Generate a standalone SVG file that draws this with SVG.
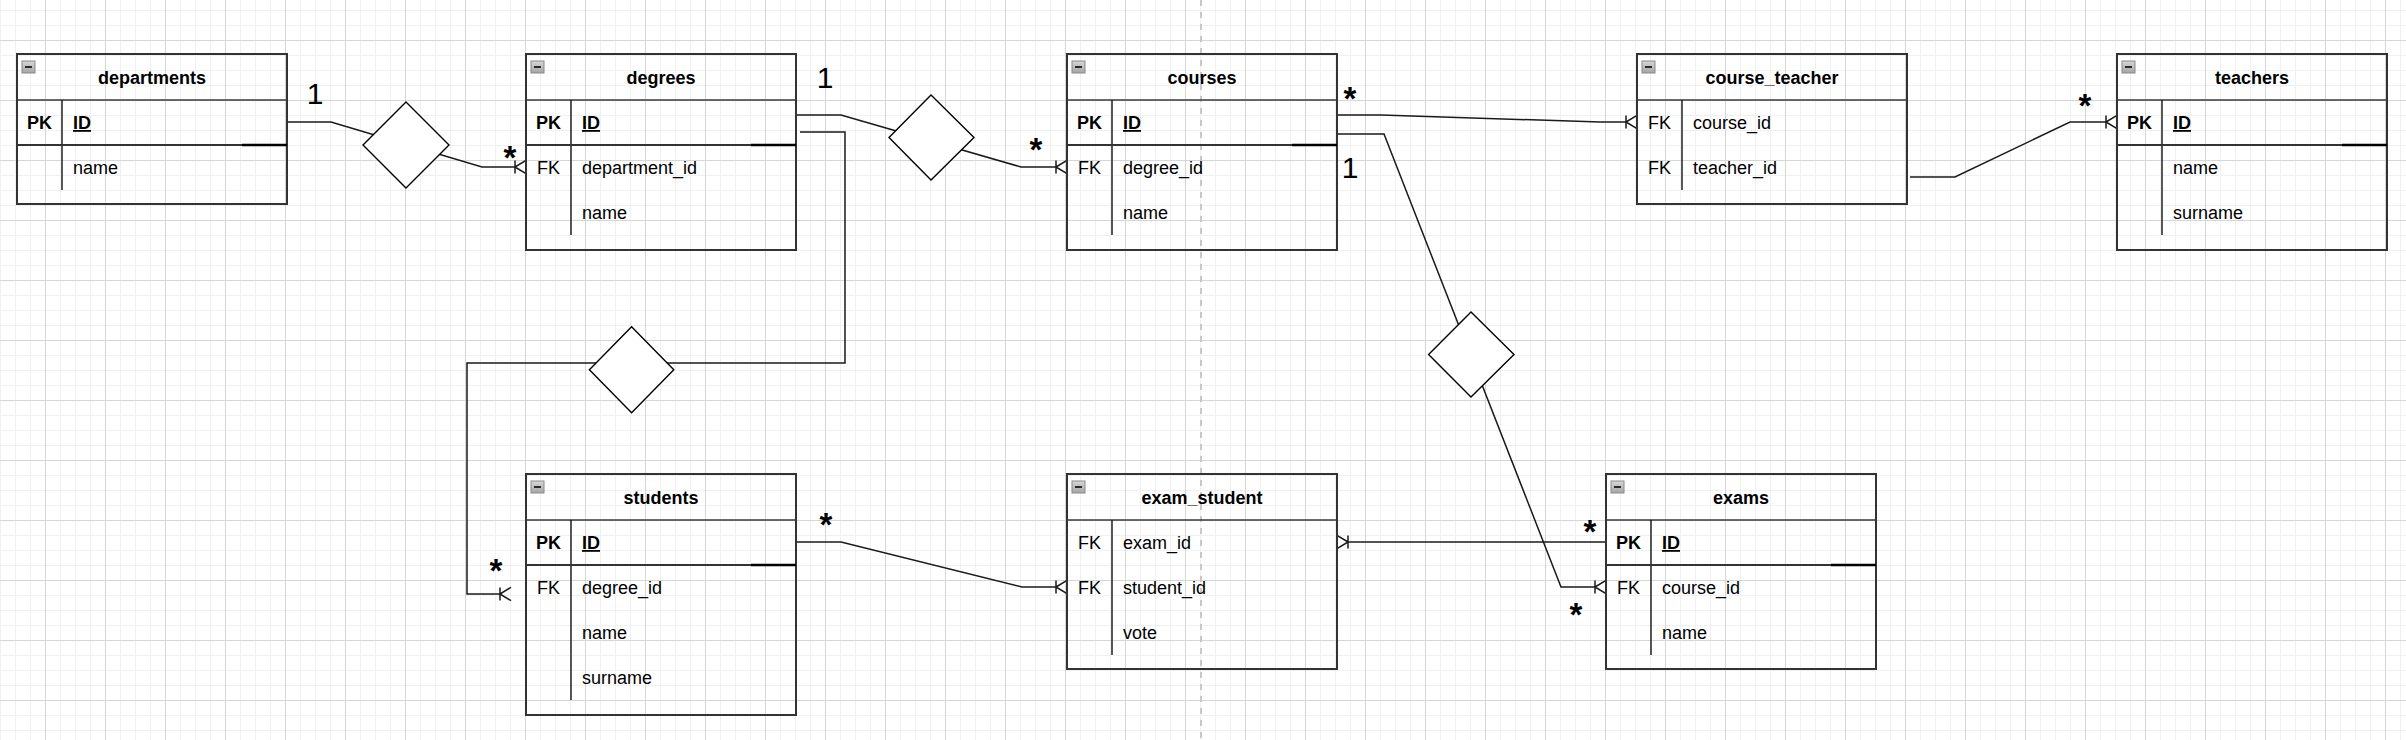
<svg xmlns="http://www.w3.org/2000/svg" width="2406" height="740" viewBox="0 0 2406 740">
<style>
.box{fill:none;stroke:#333;stroke-width:2}
.sep{stroke:#3a3a3a;stroke-width:1.6;fill:none}
.div{stroke:#111;stroke-width:1.4;fill:none}
.pk{stroke:#333;stroke-width:2;fill:none}
.pkb{stroke:#000;stroke-width:2.6;fill:none}
.icon{fill:url(#ig);stroke:#8a8a8a;stroke-width:1}
.minus{stroke:#2a2a2a;stroke-width:2;fill:none}
text{font-family:"Liberation Sans",Arial,Helvetica,sans-serif;fill:#000}
.t{font-size:18px;font-weight:bold;text-anchor:middle}
.k{font-size:18px;text-anchor:middle}
.kb{font-size:18px;font-weight:bold;text-anchor:middle}
.f{font-size:18px}
.fu{font-size:18px;font-weight:bold;text-decoration:underline}
.one{font-size:30px;text-anchor:middle}
.star{font-size:33px;font-weight:bold;text-anchor:middle}
.edge{fill:none;stroke:#1a1a1a;stroke-width:1.5}
.dia{fill:#fff;stroke:#000;stroke-width:1.4}
</style>
<defs>
<linearGradient id="ig" x1="0" y1="0" x2="0" y2="1">
<stop offset="0" stop-color="#d8d8d8"/><stop offset="1" stop-color="#a4a4a4"/>
</linearGradient>
<pattern id="grid" patternUnits="userSpaceOnUse" x="45" y="40" width="60" height="60">
<rect x="15" y="0" width="1" height="60" fill="#f0f0f0"/>
<rect x="30" y="0" width="1" height="60" fill="#f0f0f0"/>
<rect x="45" y="0" width="1" height="60" fill="#f0f0f0"/>
<rect x="0" y="15" width="60" height="1" fill="#f0f0f0"/>
<rect x="0" y="30" width="60" height="1" fill="#f0f0f0"/>
<rect x="0" y="45" width="60" height="1" fill="#f0f0f0"/>
<rect x="0" y="0" width="1" height="60" fill="#d6d6d6"/>
<rect x="0" y="0" width="60" height="1" fill="#d6d6d6"/>
</pattern>
<marker id="many" markerUnits="userSpaceOnUse" orient="auto" refX="0" refY="0" markerWidth="14" markerHeight="16" overflow="visible">
<path d="M0,-6.5V6.5M0,0L11,-6.7M0,0L11,6.7" fill="none" stroke="#1a1a1a" stroke-width="1.5"/>
</marker>
</defs>
<g id="background">
<rect width="2406" height="740" fill="#fff"/>
<rect width="2406" height="740" fill="url(#grid)"/>
<path d="M1201,0V740" stroke="#c8c8c8" stroke-width="2" stroke-dasharray="6 6"/>
</g>
<g id="connectors">
<path class="edge" d="M287,122L331,122L482,167L515,167" marker-end="url(#many)"/>
<path class="edge" d="M796,115L841,115L1021,167L1056,167" marker-end="url(#many)"/>
<path class="edge" d="M800,132L845,132L845,363L467,363L467,594L500,594" marker-end="url(#many)"/>
<path class="edge" d="M1337,115L1381,115L1600,122L1626,122" marker-end="url(#many)"/>
<path class="edge" d="M1338,134L1384,134L1561,587L1595,587" marker-end="url(#many)"/>
<path class="edge" d="M1606,542L1348,542" marker-end="url(#many)"/>
<path class="edge" d="M796,542L841,542L1022,587L1056,587" marker-end="url(#many)"/>
<path class="edge" d="M1910,177L1955,177L2070,122L2106,122" marker-end="url(#many)"/>
<polygon id="rel_dept_deg" class="dia" points="406,102 449,145 406,188 363,145"/>
<polygon id="rel_deg_course" class="dia" points="931,95 974,137.5 931,180 889,137.5"/>
<polygon id="rel_deg_student" class="dia" points="631.6,326.7 673.8,369.7 631.6,412.7 589.4,369.7"/>
<polygon id="rel_course_exam" class="dia" points="1471,312 1514,354.5 1471,397 1428.6,354.5"/>
<text class="one" x="315" y="104">1</text>
<text class="star" x="510" y="169">*</text>
<text class="one" x="825" y="88">1</text>
<text class="star" x="1036" y="161">*</text>
<text class="star" x="1350" y="110">*</text>
<text class="one" x="1350" y="178">1</text>
<text class="star" x="2085" y="117">*</text>
<text class="star" x="496" y="582">*</text>
<text class="star" x="826" y="536">*</text>
<text class="star" x="1590" y="543">*</text>
<text class="star" x="1576" y="626">*</text>
</g>
<g id="departments" transform="translate(17,54)">
<rect class="box" width="270" height="150"/>
<rect class="icon" x="5" y="7" width="13" height="12"/><path class="minus" d="M8,13H15"/>
<text class="t" x="135" y="30">departments</text>
<path class="sep" d="M0,46H270"/>
<path class="div" d="M45,46V136"/>
<path class="pk" d="M0,91H270"/><path class="pkb" d="M225,91H270"/>
<text class="kb" x="22.5" y="75">PK</text><text class="fu" x="56" y="75">ID</text>
<text class="f" x="56" y="120">name</text>
</g>
<g id="degrees" transform="translate(526,54)">
<rect class="box" width="270" height="196"/>
<rect class="icon" x="5" y="7" width="13" height="12"/><path class="minus" d="M8,13H15"/>
<text class="t" x="135" y="30">degrees</text>
<path class="sep" d="M0,46H270"/>
<path class="div" d="M45,46V181"/>
<path class="pk" d="M0,91H270"/><path class="pkb" d="M225,91H270"/>
<text class="kb" x="22.5" y="75">PK</text><text class="fu" x="56" y="75">ID</text>
<text class="k" x="22.5" y="120">FK</text><text class="f" x="56" y="120">department_id</text>
<text class="f" x="56" y="165">name</text>
</g>
<g id="courses" transform="translate(1067,54)">
<rect class="box" width="270" height="196"/>
<rect class="icon" x="5" y="7" width="13" height="12"/><path class="minus" d="M8,13H15"/>
<text class="t" x="135" y="30">courses</text>
<path class="sep" d="M0,46H270"/>
<path class="div" d="M45,46V181"/>
<path class="pk" d="M0,91H270"/><path class="pkb" d="M225,91H270"/>
<text class="kb" x="22.5" y="75">PK</text><text class="fu" x="56" y="75">ID</text>
<text class="k" x="22.5" y="120">FK</text><text class="f" x="56" y="120">degree_id</text>
<text class="f" x="56" y="165">name</text>
</g>
<g id="course_teacher" transform="translate(1637,54)">
<rect class="box" width="270" height="150"/>
<rect class="icon" x="5" y="7" width="13" height="12"/><path class="minus" d="M8,13H15"/>
<text class="t" x="135" y="30">course_teacher</text>
<path class="sep" d="M0,46H270"/>
<path class="div" d="M45,46V136"/>
<text class="k" x="22.5" y="75">FK</text><text class="f" x="56" y="75">course_id</text>
<text class="k" x="22.5" y="120">FK</text><text class="f" x="56" y="120">teacher_id</text>
</g>
<g id="teachers" transform="translate(2117,54)">
<rect class="box" width="270" height="196"/>
<rect class="icon" x="5" y="7" width="13" height="12"/><path class="minus" d="M8,13H15"/>
<text class="t" x="135" y="30">teachers</text>
<path class="sep" d="M0,46H270"/>
<path class="div" d="M45,46V181"/>
<path class="pk" d="M0,91H270"/><path class="pkb" d="M225,91H270"/>
<text class="kb" x="22.5" y="75">PK</text><text class="fu" x="56" y="75">ID</text>
<text class="f" x="56" y="120">name</text>
<text class="f" x="56" y="165">surname</text>
</g>
<g id="students" transform="translate(526,474)">
<rect class="box" width="270" height="241"/>
<rect class="icon" x="5" y="7" width="13" height="12"/><path class="minus" d="M8,13H15"/>
<text class="t" x="135" y="30">students</text>
<path class="sep" d="M0,46H270"/>
<path class="div" d="M45,46V226"/>
<path class="pk" d="M0,91H270"/><path class="pkb" d="M225,91H270"/>
<text class="kb" x="22.5" y="75">PK</text><text class="fu" x="56" y="75">ID</text>
<text class="k" x="22.5" y="120">FK</text><text class="f" x="56" y="120">degree_id</text>
<text class="f" x="56" y="165">name</text>
<text class="f" x="56" y="210">surname</text>
</g>
<g id="exam_student" transform="translate(1067,474)">
<rect class="box" width="270" height="195"/>
<rect class="icon" x="5" y="7" width="13" height="12"/><path class="minus" d="M8,13H15"/>
<text class="t" x="135" y="30">exam_student</text>
<path class="sep" d="M0,46H270"/>
<path class="div" d="M45,46V181"/>
<text class="k" x="22.5" y="75">FK</text><text class="f" x="56" y="75">exam_id</text>
<text class="k" x="22.5" y="120">FK</text><text class="f" x="56" y="120">student_id</text>
<text class="f" x="56" y="165">vote</text>
</g>
<g id="exams" transform="translate(1606,474)">
<rect class="box" width="270" height="195"/>
<rect class="icon" x="5" y="7" width="13" height="12"/><path class="minus" d="M8,13H15"/>
<text class="t" x="135" y="30">exams</text>
<path class="sep" d="M0,46H270"/>
<path class="div" d="M45,46V181"/>
<path class="pk" d="M0,91H270"/><path class="pkb" d="M225,91H270"/>
<text class="kb" x="22.5" y="75">PK</text><text class="fu" x="56" y="75">ID</text>
<text class="k" x="22.5" y="120">FK</text><text class="f" x="56" y="120">course_id</text>
<text class="f" x="56" y="165">name</text>
</g>
</svg>
